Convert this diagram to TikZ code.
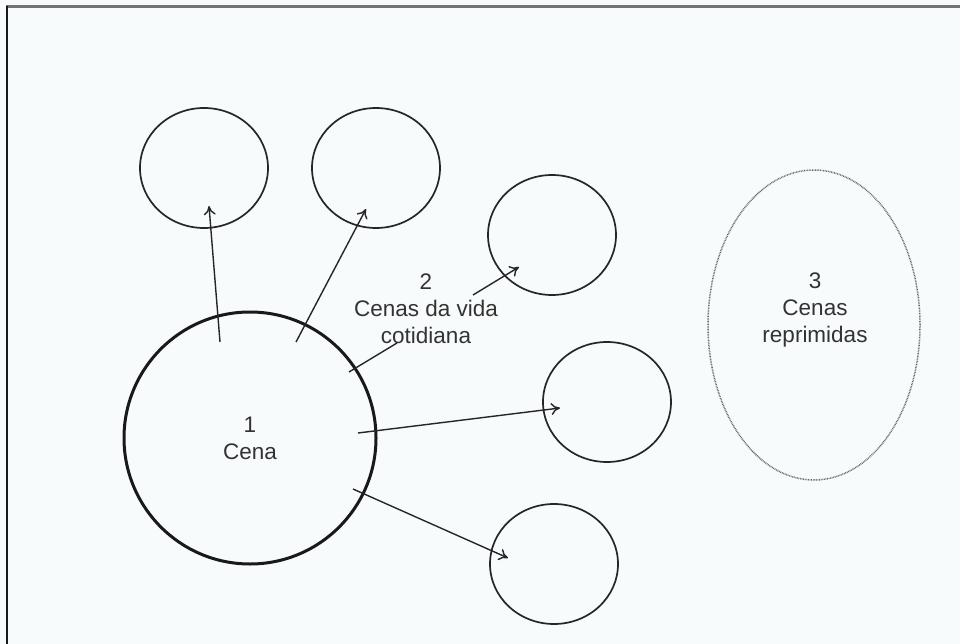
\documentclass[tikz,border=0pt]{standalone}
\usepackage{fontspec}
\setmainfont{Liberation Sans}
\usetikzlibrary{arrows.meta,shapes.geometric}
\definecolor{bgc}{HTML}{F8FBFB}
\definecolor{txt}{HTML}{333333}
\begin{document}
\begin{tikzpicture}[x=1pt,y=-1pt,
  smallc/.style={draw=black!85, line width=1.7pt, ellipse, minimum width=128pt, minimum height=120pt, inner sep=0pt},
  bigc/.style={draw=black!90, line width=3pt, circle, minimum size=252pt, inner sep=0pt, font=\fontsize{22.5pt}{27pt}\selectfont, align=center, text=txt},
  dotc/.style={draw=black!60, line width=1.5pt, dash pattern=on 0.8pt off 0.8pt, ellipse, minimum width=212pt, minimum height=310pt, inner sep=0pt},
  lab/.style={font=\fontsize{22.5pt}{27pt}\selectfont, align=center, inner sep=0pt, text=txt},
  arr/.style={draw=black!85, line width=1.4pt, -{To[length=9pt,width=12pt]}},
  seg/.style={draw=black!85, line width=1.4pt}
]
\fill[bgc] (0,0) rectangle (960,644);
\useasboundingbox (0,0) rectangle (960,644);
% frame
\draw[draw=black!55, line width=3pt] (6,7) -- (960,7);
\draw[draw=black!90, line width=2.5pt] (7,6) -- (7,644);

% circles
\node[bigc] (c1) at (250,438) {1\\Cena};
\node[smallc] (a) at (204,168) {};
\node[smallc] (b) at (376,168) {};
\node[smallc] (c) at (552,235) {};
\node[smallc] (d) at (607,402) {};
\node[smallc] (e) at (554,564) {};
\node[dotc] (c3) at (814,325) {};

% labels
\node[lab] (l2) at (426,309) {2\\Cenas da vida\\cotidiana};
\node[lab] (l3) at (815,310) {3\\Cenas\\reprimidas};

% arrow end points
\coordinate (sa) at (220,342);
\coordinate (ea) at (209,206);
\coordinate (sb) at (296,342);
\coordinate (eb) at (366,209);
\coordinate (sc) at (349,372);
\coordinate (mc1) at (397,343);
\coordinate (mc2) at (473,295);
\coordinate (ec) at (519,267);
\coordinate (sd) at (358,433);
\coordinate (ed) at (560,408);
\coordinate (se) at (353,489);
\coordinate (ee) at (508,558);

\draw[arr] (sa) -- (ea);
\draw[arr] (sb) -- (eb);
\draw[seg] (sc) -- (mc1);
\draw[arr] (mc2) -- (ec);
\draw[arr] (sd) -- (ed);
\draw[arr] (se) -- (ee);
\end{tikzpicture}
\end{document}
